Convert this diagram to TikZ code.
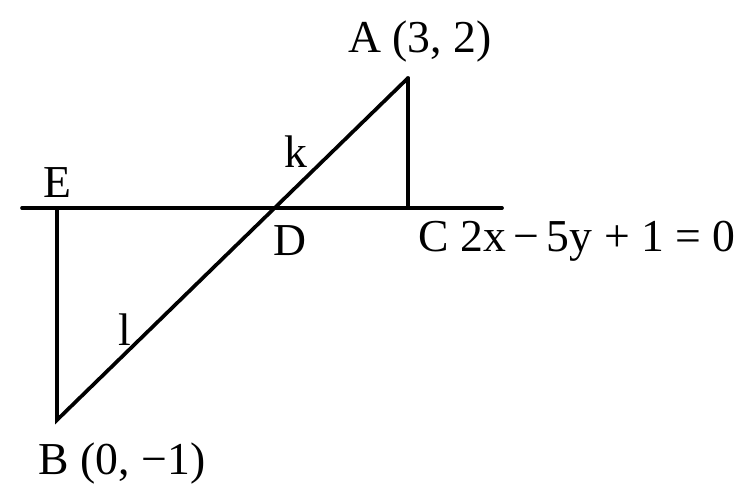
\documentclass[tikz,border=0pt]{standalone}
\usepackage{fontspec}
\setmainfont{Liberation Serif}
\usetikzlibrary{positioning, calc}

\begin{document}
\begin{tikzpicture}[
    x=0.02cm, y=-0.02cm,
    seg/.style={line width=2.1pt, line cap=round, line join=miter},
    lbl/.style={inner sep=0pt, font=\fontsize{26}{28}\selectfont}
    ]

    \useasboundingbox (0,0) rectangle (742,490);

    % 点
    \coordinate (A) at (408,78);
    \coordinate (B) at (57,420);
    \coordinate (E) at (57,208);
    \coordinate (C) at (408,208);
    \coordinate (L1) at (22,208);
    \coordinate (L2) at (502,208);
    \coordinate (D) at (intersection of A--B and L1--L2);

    % 線
    \draw[seg] (L1) -- (L2);
    \draw[seg] (A) -- (C);
    \draw[seg] (E) -- (B) -- (A);

    % ラベル
    \node[lbl] (LA) at (420,42) {A (3, 2)};
    \node[lbl] (LK) at (296,152) {k};
    \node[lbl] (LE) at (57,183) {E};
    \node[lbl] (LD) at (290,241) {D};
    \node[lbl, anchor=west] (LC) at (418,241) {C 2x{\,}−{\,}5y + 1 = 0};
    \node[lbl] (LL) at (125,330) {l};
    \node[lbl] (LB) at (122,464) {B (0, −1)};

\end{tikzpicture}
\end{document}
